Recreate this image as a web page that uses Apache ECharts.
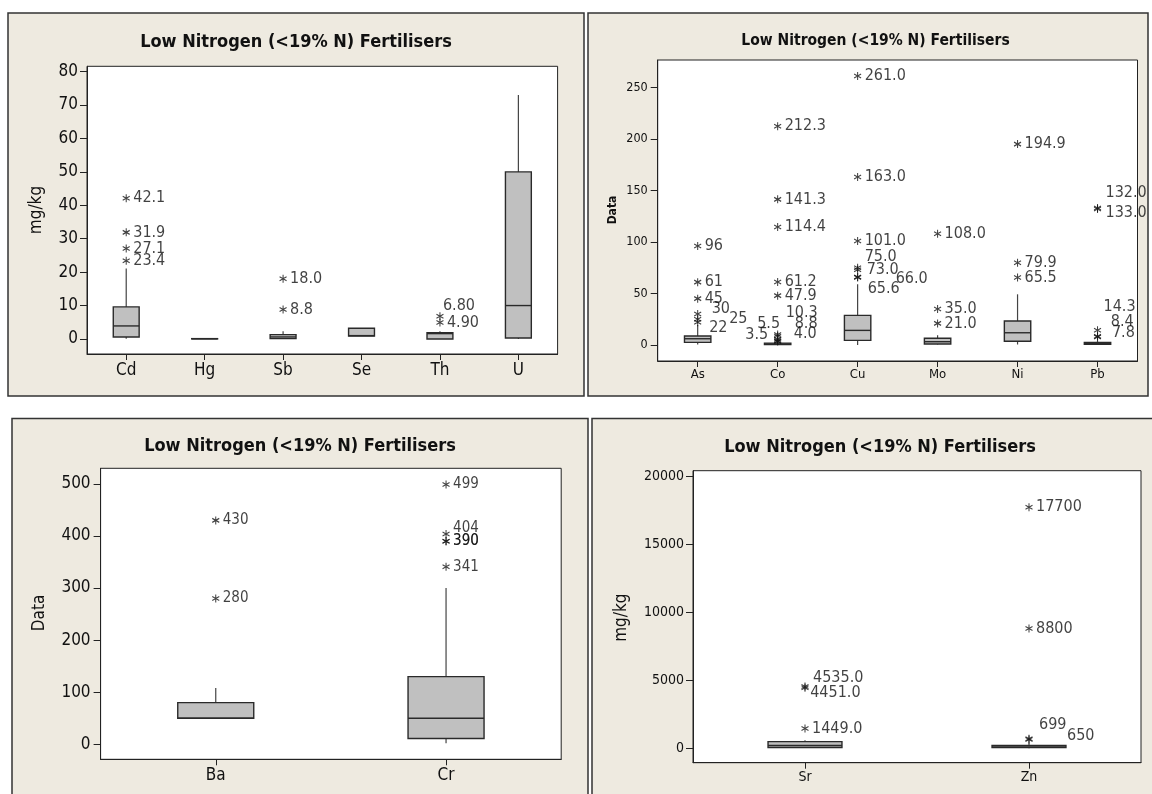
<!DOCTYPE html>
<html>
<head>
<meta charset="utf-8">
<script src="https://cdn.jsdelivr.net/npm/echarts@6/dist/echarts.min.js"></script>
<style>
  html, body { margin: 0; padding: 0; background: #fff; }
  #chart { width: 1152px; height: 794px; }
</style>
</head>
<body>
<div id="chart"></div>
<script>
// ---- data: element concentrations (mg/kg) in low nitrogen fertilisers ----
// box rows: [min whisker, Q1, median, Q3, max whisker]

const titleText = 'Low Nitrogen (<19% N) Fertilisers';

// panel A: trace elements
const aCategories = ['Cd', 'Hg', 'Sb', 'Se', 'Th', 'U'];
const aBoxes = [
  [0.1, 0.6, 3.9, 9.6, 21.1],
  [0.0, 0.02, 0.05, 0.1, 0.25],
  [0.0, 0.1, 0.6, 1.3, 2.3],
  [0.9, 0.9, 1.0, 3.2, 3.2],
  [0.0, 0.0, 1.6, 1.9, 2.3],
  [0.0, 0.3, 10.0, 50.0, 73.0]
];
const aOutliers = [[0, 42.1], [0, 31.9], [0, 27.1], [0, 23.4], [2, 18.0], [2, 8.8], [4, 6.80], [4, 4.90]];
const aDigits = [1, 1, 1, 1, 2, 1];
const aTicks = [0, 10, 20, 30, 40, 50, 60, 70, 80];

// panel B: heavy metals
const bCategories = ['As', 'Co', 'Cu', 'Mo', 'Ni', 'Pb'];
const bBoxes = [
  [0.5, 2.6, 6.1, 8.7, 19.4],
  [0.0, 0.4, 1.0, 1.8, 3.0],
  [0.0, 4.5, 14.2, 28.8, 58.9],
  [0.5, 1.0, 3.2, 6.5, 9.5],
  [0.5, 3.6, 11.9, 23.3, 49.2],
  [0.3, 0.8, 1.5, 2.5, 4.0]
];
const bOutliers = [
  [0, 96], [0, 61], [0, 45], [0, 30], [0, 25], [0, 22],
  [1, 212.3], [1, 141.3], [1, 114.4], [1, 61.2], [1, 47.9], [1, 10.3], [1, 8.8], [1, 5.5], [1, 4.0], [1, 3.5],
  [2, 261.0], [2, 163.0], [2, 101.0], [2, 75.0], [2, 73.0], [2, 66.0], [2, 65.6],
  [3, 108.0], [3, 35.0], [3, 21.0],
  [4, 194.9], [4, 79.9], [4, 65.5],
  [5, 132.0], [5, 133.0], [5, 14.3], [5, 8.4], [5, 7.8]
];
const bDigits = [0, 1, 1, 1, 1, 1];
const bTicks = [0, 50, 100, 150, 200, 250];

// panel C: Ba and Cr
const cCategories = ['Ba', 'Cr'];
const cBoxes = [
  [50, 50, 50, 80, 108],
  [2, 11, 50, 130, 300]
];
const cOutliers = [[0, 430], [0, 280], [1, 499], [1, 404], [1, 390], [1, 390], [1, 341]];
const cDigits = [0, 0];
const cTicks = [0, 100, 200, 300, 400, 500];

// panel D: Sr and Zn
const dCategories = ['Sr', 'Zn'];
const dBoxes = [
  [30, 60, 200, 490, 600],
  [10, 50, 100, 200, 400]
];
const dOutliers = [[0, 4535.0], [0, 4451.0], [0, 1449.0], [1, 17700], [1, 8800], [1, 699], [1, 650]];
const dDigits = [1, 0];
const dTicks = [0, 5000, 10000, 15000, 20000];

// ---- layout and styling ----
const FONT = '"DejaVu Sans Condensed", "Liberation Sans", sans-serif';
const PANEL_BG = '#EEEAE0';
const INK = '#111';
const BOX_RATIO = 0.33;

// label nudges for crowded outliers: key "category:value" -> [position, dx, dy]
const labelNudges = {
  A: { '4:6.8': ['right', -4, -10.5] },
  B: {
    '0:30': ['right', 7, -5], '0:25': ['right', 24.5, 0], '0:22': ['right', 4.5, 5],
    '1:10.3': ['right', 1, -22], '1:8.8': ['right', 10, -12.5], '1:5.5': ['left', 9.4, -16],
    '1:4': ['right', 9.2, -6.6], '1:3.5': ['left', -2.5, -6.4],
    '2:75': ['right', 0, -11], '2:73': ['right', 2, 0], '2:66': ['right', 31, 2.3], '2:65.6': ['right', 3, 11],
    '5:132': ['right', 1, -16], '5:133': ['right', 1, 5.4],
    '5:14.3': ['right', -1, -23], '5:8.4': ['right', 6.3, -15], '5:7.8': ['right', 7.4, -3.7]
  },
  C: { '1:404': ['right', 0, -6] },
  D: {
    '0:4535': ['right', 1, -9], '0:4451': ['right', -1.8, 5.6],
    '1:699': ['right', 3, -14], '1:650': ['right', 31, -4]
  }
};

const panels = [
  { key: 'A', cats: aCategories, boxes: aBoxes, outliers: aOutliers, digits: aDigits, ticks: aTicks,
    min: -4.5, max: 81.6, grid: { left: 87, top: 66.3, width: 470.6, height: 287.7 },
    frame: [8, 13, 576, 383], title: [296, 42, 18], yName: ['mg/kg', 37, 210, 17, 'normal'],
    tickFont: 17, catFont: 17, labelFont: 16, yMargin: 9, xMargin: 8 },
  { key: 'B', cats: bCategories, boxes: bBoxes, outliers: bOutliers, digits: bDigits, ticks: bTicks,
    min: -15.5, max: 276.5, grid: { left: 657.7, top: 60, width: 479.8, height: 301 },
    frame: [588, 13, 560, 383], title: [875.5, 40.7, 15.5], yName: ['Data', 613, 210, 12, 'bold'],
    tickFont: 12.5, catFont: 13, labelFont: 16, yMargin: 10, xMargin: 7 },
  { key: 'C', cats: cCategories, boxes: cBoxes, outliers: cOutliers, digits: cDigits, ticks: cTicks,
    min: -28.8, max: 530, grid: { left: 100.6, top: 468.3, width: 460.6, height: 291 },
    frame: [12, 418.5, 576, 400], title: [300, 446.7, 18], yName: ['Data', 40, 613, 17, 'normal'],
    tickFont: 17, catFont: 17, labelFont: 15, yMargin: 10, xMargin: 8 },
  { key: 'D', cats: dCategories, boxes: dBoxes, outliers: dOutliers, digits: dDigits, ticks: dTicks,
    min: -1058, max: 20388, grid: { left: 693, top: 470.7, width: 448, height: 292 },
    frame: [592, 418.5, 600, 400], title: [880, 447.3, 18], yName: ['mg/kg', 622, 617.7, 17, 'normal'],
    tickFont: 14, catFont: 14, labelFont: 16, yMargin: 9, xMargin: 8 }
];

// asterisk marker drawn as stroked lines
const STAR = 'path://M5,0L5,10M0.67,2.5L9.33,7.5M0.67,7.5L9.33,2.5';

function renderBox(params, api) {
  const c = api.value(0);
  const pMin = api.coord([c, api.value(1)]);
  const pQ1 = api.coord([c, api.value(2)]);
  const pMed = api.coord([c, api.value(3)]);
  const pQ3 = api.coord([c, api.value(4)]);
  const pMax = api.coord([c, api.value(5)]);
  const w = api.size([1, 0])[0] * BOX_RATIO;
  const x = pQ1[0];
  const whisker = { stroke: '#444', lineWidth: 1.2 };
  return {
    type: 'group',
    children: [
      { type: 'line', shape: { x1: x, y1: pQ3[1], x2: x, y2: pMax[1] }, style: whisker },
      { type: 'line', shape: { x1: x, y1: pQ1[1], x2: x, y2: pMin[1] }, style: whisker },
      { type: 'rect', shape: { x: x - w / 2, y: pQ3[1], width: w, height: pQ1[1] - pQ3[1] },
        style: { fill: '#C0C0C0', stroke: '#2a2a2a', lineWidth: 1.4 } },
      { type: 'line', shape: { x1: x - w / 2, y1: pMed[1], x2: x + w / 2, y2: pMed[1] },
        style: { stroke: '#2a2a2a', lineWidth: 1.4 } }
    ]
  };
}

const option = {
  backgroundColor: '#ffffff',
  animation: false,
  grid: [], xAxis: [], yAxis: [], series: [],
  graphic: { elements: [] }
};

panels.forEach((p, i) => {
  const [fx, fy, fw, fh] = p.frame;
  option.graphic.elements.push({
    type: 'rect', z: -10, shape: { x: fx, y: fy, width: fw, height: fh },
    style: { fill: PANEL_BG, stroke: '#333', lineWidth: 1.5 }
  });
  option.graphic.elements.push({
    type: 'text', z: 10, x: p.title[0], y: p.title[1],
    style: { text: titleText, align: 'center', verticalAlign: 'middle', fill: INK,
      font: 'bold ' + p.title[2] + 'px ' + FONT }
  });
  option.graphic.elements.push({
    type: 'text', z: 10, x: p.yName[1], y: p.yName[2], rotation: Math.PI / 2,
    style: { text: p.yName[0], align: 'center', verticalAlign: 'middle', fill: INK,
      font: p.yName[4] + ' ' + p.yName[3] + 'px ' + FONT }
  });

  option.grid.push(Object.assign({ show: true, backgroundColor: '#fff', borderColor: '#222', borderWidth: 1 }, p.grid));
  option.xAxis.push({
    type: 'category', gridIndex: i, data: p.cats, boundaryGap: true,
    axisLine: { show: true, onZero: false, lineStyle: { color: '#222', width: 1 } },
    axisTick: { show: true, alignWithLabel: true, length: 6, lineStyle: { color: '#222' } },
    axisLabel: { color: INK, fontSize: p.catFont, fontFamily: FONT, margin: p.xMargin },
    splitLine: { show: false }
  });
  option.yAxis.push({
    type: 'value', gridIndex: i, min: p.min, max: p.max,
    axisLine: { show: true, onZero: false, lineStyle: { color: '#222', width: 1 } },
    axisTick: { show: true, length: 7, customValues: p.ticks, lineStyle: { color: '#222' } },
    axisLabel: { color: INK, fontSize: p.tickFont, fontFamily: FONT, margin: p.yMargin,
      customValues: p.ticks, formatter: (v) => String(v) },
    splitLine: { show: false }
  });

  option.series.push({
    type: 'custom', xAxisIndex: i, yAxisIndex: i, renderItem: renderBox,
    encode: { x: 0, y: [1, 2, 3, 4, 5] },
    data: p.boxes.map((b, c) => [c].concat(b)),
    z: 2
  });

  const nudges = labelNudges[p.key];
  option.series.push({
    type: 'scatter', xAxisIndex: i, yAxisIndex: i, z: 3,
    symbol: STAR, symbolSize: [7, 8],
    itemStyle: { color: 'transparent', borderColor: '#111', borderWidth: 1.1 },
    label: {
      show: true, position: 'right', distance: 3, color: INK,
      fontSize: p.labelFont, fontFamily: FONT,
      formatter: (d) => d.data.text
    },
    data: p.outliers.map(([c, v]) => {
      const item = { value: [c, v], text: v.toFixed(p.digits[c]) };
      const n = nudges[c + ':' + v];
      if (n) item.label = { position: n[0], offset: [n[1], n[2]] };
      return item;
    })
  });
});

const chart = echarts.init(document.getElementById('chart'), null, { renderer: 'canvas' });
chart.setOption(option);
</script>
</body>
</html>
